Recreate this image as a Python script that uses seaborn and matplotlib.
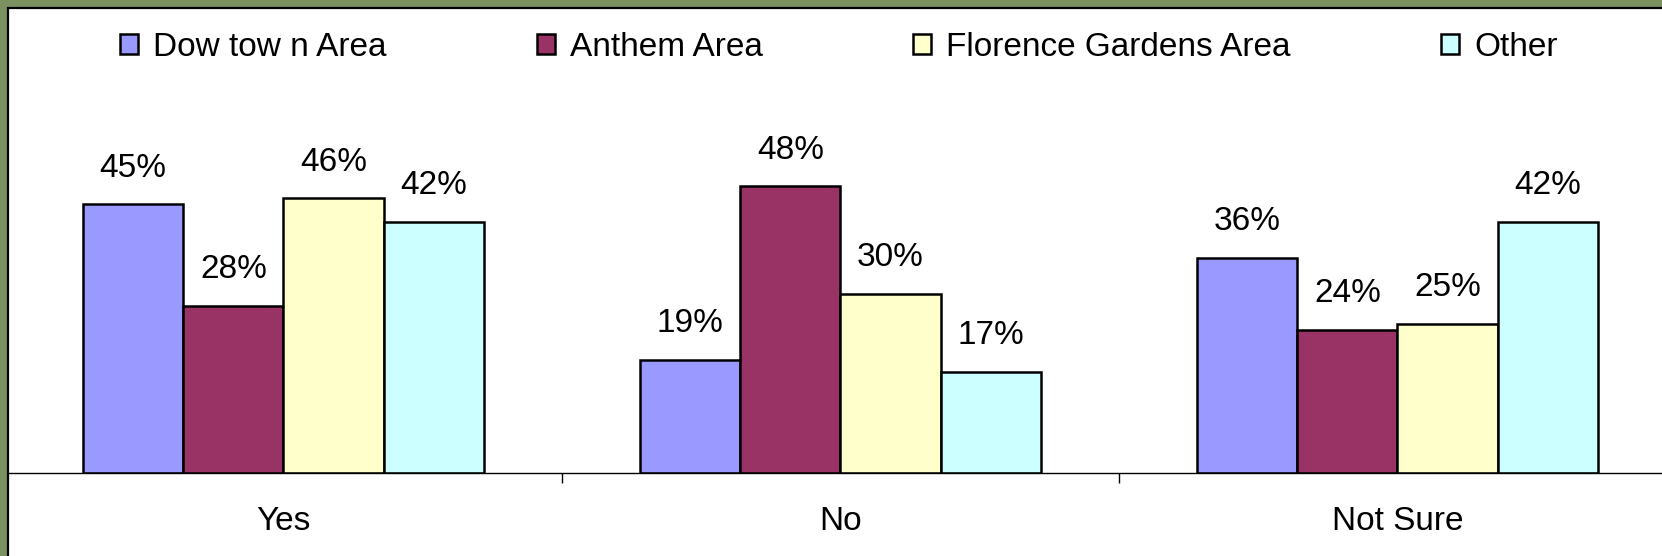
import matplotlib
matplotlib.use("Agg")
import matplotlib.pyplot as plt
from matplotlib.patches import Rectangle
from matplotlib.ticker import FixedLocator, NullFormatter, FixedFormatter
import seaborn as sns
import pandas as pd

# ---- data ----
categories = ["Yes", "No", "Not Sure"]
series = ["Dow tow n Area", "Anthem Area", "Florence Gardens Area", "Other"]
downtown = [45, 19, 36]
anthem = [28, 48, 24]
florence = [46, 30, 25]
other = [42, 17, 42]
colors = ["#9999FF", "#993366", "#FFFFCC", "#CCFFFF"]

values = [downtown, anthem, florence, other]
rows = []
for s, vals in zip(series, values):
    for c, v in zip(categories, vals):
        rows.append({"cat": c, "series": s, "val": v})
df = pd.DataFrame(rows)

sns.set_style("white")
plt.rcParams["font.family"] = ["Liberation Sans", "DejaVu Sans"]
plt.rcParams["text.color"] = "black"
plt.rcParams["xtick.color"] = "black"

W, H = 1662, 556
FS = 24
fig = plt.figure(figsize=(W / 100, H / 100), dpi=100)
fig.patch.set_facecolor("#7B9160")

# white panel with black left/top border
panel = Rectangle((8 / W, -0.1), 1.2, (H - 8) / H + 0.1, transform=fig.transFigure,
                  facecolor="white", edgecolor="black", linewidth=1.6, zorder=-5)
fig.patches.append(panel)

ax = fig.add_axes([8 / W, 83 / H, (W - 8) / W, (H - 8 - 83) / H])
ax.set_zorder(5)
ax.set_facecolor("none")

sns.barplot(data=df, x="cat", y="val", hue="series", order=categories,
            hue_order=series, palette=colors, edgecolor="black", linewidth=1.8,
            width=0.72, gap=0, ax=ax, saturation=1)

for cont in ax.containers:
    ax.bar_label(cont, fmt="%d%%", padding=15, fontsize=FS, color="black")

ax.set_xlim(-0.4946, 2.4749)
ax.set_ylim(0, 77.9)
ax.set_xlabel("")
ax.set_ylabel("")
ax.set_yticks([])
for sp in ["top", "right", "left"]:
    ax.spines[sp].set_visible(False)
ax.spines["bottom"].set_linewidth(1.0)
ax.spines["bottom"].set_color("black")

ax.xaxis.set_major_locator(FixedLocator([0.5, 1.5]))
ax.xaxis.set_major_formatter(NullFormatter())
ax.xaxis.set_minor_locator(FixedLocator([0, 1, 2]))
ax.xaxis.set_minor_formatter(FixedFormatter(categories))
ax.tick_params(axis="x", which="major", direction="out", length=7, width=1.0,
               color="black", bottom=True)
ax.tick_params(axis="x", which="minor", length=0, pad=24, labelsize=FS,
               labelcolor="black")

handles, labels = ax.get_legend_handles_labels()
leg = ax.legend(handles, labels, loc="center left",
                bbox_to_anchor=(120 / W, (H - 47) / H), bbox_transform=fig.transFigure,
                ncol=4, frameon=False, fontsize=FS, borderpad=0, borderaxespad=0,
                handlelength=0.55, handleheight=0.55, handletextpad=0.45,
                columnspacing=4.5)
for t in leg.get_texts():
    t.set_color("black")

fig.savefig("out.png", dpi=100, facecolor=fig.get_facecolor())
